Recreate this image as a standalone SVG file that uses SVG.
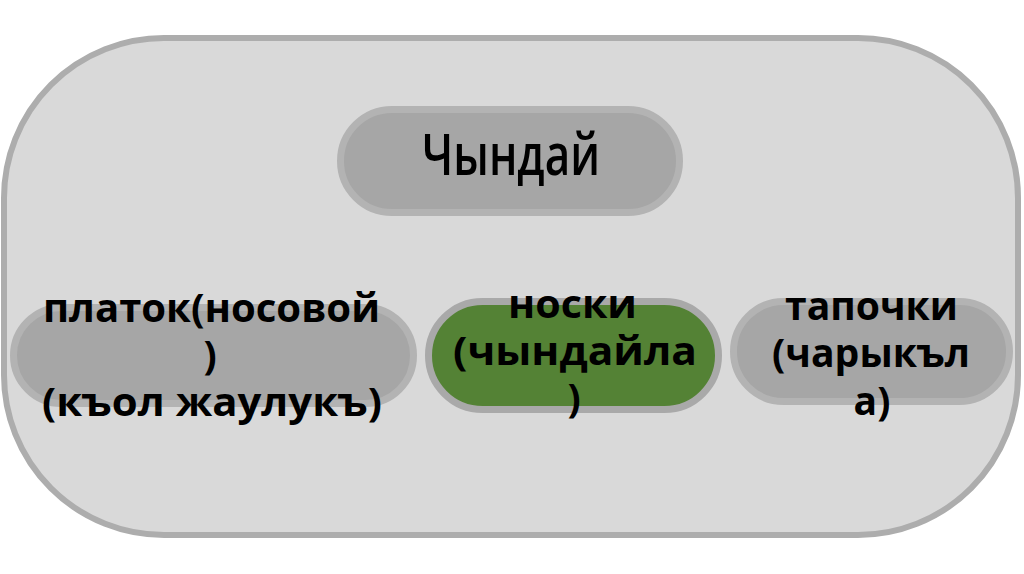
<svg xmlns="http://www.w3.org/2000/svg" width="1024" height="574" viewBox="0 0 1024 574">
<style>
.pill{fill:#a6a6a6;stroke:#b3b3b3;stroke-width:7}
.green{fill:#548235;stroke:#a9a9a9;stroke-width:7}
.t{font-family:"Open Sans","Noto Sans","DejaVu Sans",sans-serif;fill:#000;text-anchor:middle}
.b{font-weight:bold;font-size:39px}
</style>
<rect width="1024" height="574" fill="#ffffff"/>
<g id="container">
<rect x="4" y="38" width="1014" height="497" rx="160" ry="160" fill="#d9d9d9" stroke="#adadad" stroke-width="6"/>
</g>
<g id="connectors"></g>
<g id="node-top">
<rect class="pill" x="340.5" y="109.5" width="339" height="103" rx="51.5"/>
<text class="t" x="511" y="175" font-size="57" font-weight="600" textLength="178" lengthAdjust="spacingAndGlyphs">Чындай</text>
</g>
<g id="node-left">
<rect class="pill" x="13.5" y="307.5" width="400" height="96" rx="48"/>
<text class="t b" x="211.5" y="322" textLength="337" lengthAdjust="spacingAndGlyphs">платок(носовой</text>
<text class="t b" x="210" y="369">)</text>
<text class="t b" x="212" y="416" textLength="340" lengthAdjust="spacingAndGlyphs">(къол жаулукъ)</text>
</g>
<g id="node-middle">
<rect class="green" x="428.5" y="301.5" width="290" height="108" rx="54"/>
<text class="t b" x="572.5" y="318" textLength="129" lengthAdjust="spacingAndGlyphs">носки</text>
<text class="t b" x="575" y="365" textLength="244" lengthAdjust="spacingAndGlyphs">(чындайла</text>
<text class="t b" x="574" y="412">)</text>
</g>
<g id="node-right">
<rect class="pill" x="733.5" y="301.5" width="276" height="100" rx="50"/>
<text class="t b" x="871.5" y="320" textLength="173" lengthAdjust="spacingAndGlyphs">тапочки</text>
<text class="t b" x="871" y="367" textLength="198" lengthAdjust="spacingAndGlyphs">(чарыкъл</text>
<text class="t b" x="872" y="415">а)</text>
</g>
</svg>
